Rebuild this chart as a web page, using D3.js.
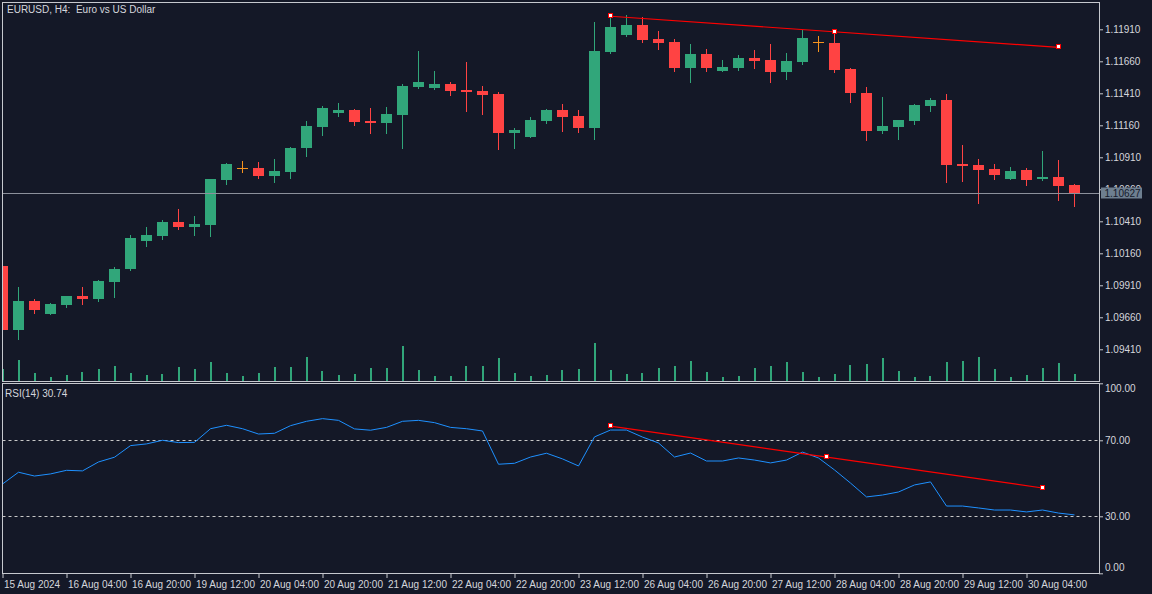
<!DOCTYPE html>
<html><head><meta charset="utf-8">
<script src="https://cdn.jsdelivr.net/npm/d3@7"></script>
<style>
html,body{margin:0;padding:0;background:#141827;}
svg{display:block;}
text{font-family:"Liberation Sans",Arial,sans-serif;}
</style>
</head><body>
<svg id="c" width="1152" height="594"></svg>
<script>
// ---------------- DATA ----------------
const symbolTitle = "EURUSD, H4:  Euro vs US Dollar";
const rsiTitle = "RSI(14) 30.74";
const timeLabels = ["15 Aug 2024","16 Aug 04:00","16 Aug 20:00","19 Aug 12:00","20 Aug 04:00","20 Aug 20:00","21 Aug 12:00","22 Aug 04:00","22 Aug 20:00","23 Aug 12:00","26 Aug 04:00","26 Aug 20:00","27 Aug 12:00","28 Aug 04:00","28 Aug 20:00","29 Aug 12:00","30 Aug 04:00"];
const timeLabelBars = [0,4,8,12,16,20,24,28,32,36,40,44,48,52,56,60,64];
const priceTicks = [1.09410,1.09660,1.09910,1.10160,1.10410,1.10660,1.10910,1.11160,1.11410,1.11660,1.11910];
const rsiTicks = [0,30,70,100];
const rsiLevels = [30,70];

const opens = [1.10061,1.09561,1.09787,1.09686,1.09756,1.09826,1.09803,1.09936,1.10037,1.10256,1.10295,1.10405,1.10366,1.10381,1.10733,1.10826,1.10826,1.10764,1.10795,1.10983,1.11147,1.11256,1.11280,1.11194,1.11178,1.11240,1.11459,1.11451,1.11483,1.11436,1.11428,1.11405,1.11100,1.11069,1.11194,1.11280,1.11233,1.11139,1.11733,1.11866,1.11944,1.11834,1.11811,1.11608,1.11717,1.11584,1.11608,1.11686,1.11670,1.11576,1.11655,1.11803,1.11803,1.11600,1.11412,1.11115,1.11147,1.11194,1.11311,1.11358,1.10858,1.10850,1.10819,1.10741,1.10811,1.10741,1.10756,1.10694];
const highs = [1.10070,1.09897,1.09803,1.09772,1.09826,1.09897,1.09951,1.10053,1.10303,1.10366,1.10420,1.10506,1.10451,1.10741,1.10865,1.10881,1.10873,1.10897,1.10990,1.11194,1.11311,1.11334,1.11287,1.11295,1.11303,1.11483,1.11740,1.11584,1.11498,1.11655,1.11467,1.11420,1.11139,1.11225,1.11287,1.11326,1.11280,1.11967,1.12014,1.12022,1.12006,1.11897,1.11834,1.11795,1.11756,1.11670,1.11709,1.11748,1.11795,1.11725,1.11905,1.11858,1.11889,1.11608,1.11459,1.11381,1.11201,1.11326,1.11373,1.11405,1.11006,1.10897,1.10858,1.10834,1.10826,1.10959,1.10889,1.10701];
const lows = [1.09555,1.09491,1.09694,1.09686,1.09740,1.09764,1.09787,1.09819,1.10030,1.10217,1.10272,1.10350,1.10303,1.10295,1.10701,1.10795,1.10748,1.10717,1.10748,1.10920,1.11084,1.11233,1.11162,1.11100,1.11100,1.10983,1.11451,1.11444,1.11397,1.11272,1.11248,1.10975,1.10983,1.11069,1.11178,1.11115,1.11108,1.11053,1.11725,1.11858,1.11811,1.11756,1.11584,1.11498,1.11584,1.11584,1.11592,1.11608,1.11498,1.11522,1.11639,1.11740,1.11576,1.11342,1.11045,1.11100,1.11053,1.11170,1.11272,1.10717,1.10725,1.10553,1.10741,1.10741,1.10694,1.10733,1.10576,1.10530];
const closes = [1.09561,1.09787,1.09717,1.09764,1.09826,1.09803,1.09944,1.10037,1.10280,1.10303,1.10405,1.10366,1.10389,1.10741,1.10858,1.10826,1.10764,1.10803,1.10983,1.11155,1.11295,1.11280,1.11186,1.11178,1.11248,1.11467,1.11498,1.11483,1.11428,1.11420,1.11397,1.11100,1.11123,1.11201,1.11280,1.11225,1.11139,1.11740,1.11928,1.11944,1.11826,1.11803,1.11608,1.11717,1.11608,1.11615,1.11686,1.11662,1.11576,1.11662,1.11842,1.11803,1.11592,1.11412,1.11115,1.11155,1.11201,1.11318,1.11358,1.10850,1.10842,1.10811,1.10772,1.10803,1.10733,1.10756,1.10686,1.10627];
const volumes = [12000,21000,8000,4000,6000,9000,12000,15000,8000,6000,7000,14000,12000,19000,8000,5000,8000,14000,14000,24000,10000,6000,7000,13000,13000,35000,11000,5000,5000,15000,15000,23000,8000,5000,6000,11000,12000,38000,11000,7000,8000,13000,15000,20000,9000,4000,5000,13000,15000,19000,9000,4000,7000,16000,17000,23000,10000,4000,5000,19000,20000,24000,12000,4000,6000,13000,18000,7000];
const rsiValues = [47.0,53.2,51.2,52.3,54.2,53.9,58.6,61.1,67.2,68.1,70.0,68.8,68.9,76.1,77.9,76.1,73.3,73.7,77.7,80.0,81.4,80.5,76.0,75.3,76.8,80.0,80.5,79.3,76.8,76.1,74.9,57.4,57.9,61.2,63.2,60.2,56.5,71.8,75.4,75.4,71.7,68.6,61.2,63.3,59.1,59.1,60.7,59.6,58.1,59.6,63.8,60.7,54.4,47.5,40.2,41.2,42.8,46.5,48.1,35.4,35.4,34.4,33.3,33.3,32.3,33.3,31.7,30.74];
const priceTrendBars = [38, 52, 66];
const priceTrendValues = [1.12012, 1.118905, 1.11769];
const rsiTrendBars = [38, 51.5, 65];
const rsiTrendValues = [77.5, 61.2, 44.9];

// ---------------- DRAW ----------------
const W = 1152, H = 594;
const C = {bg:"#141827", frame:"#c6c8ce", text:"#d4d6dc", green:"#31a67a", red:"#ff4343",
           doji:"#f7931e", pline:"#8c909b", rsi:"#1e90ff", trend:"#ff0000", level:"#c8c8c8"};
const svg = d3.select("#c");
svg.append("rect").attr("width", W).attr("height", H).attr("fill", C.bg);

const x = d3.scaleLinear().domain([0, 67]).range([2.5, 1074.5]);
const y = d3.scaleLinear().domain([1.091623, 1.121233]).range([381, 2]);
const vy = d3.scaleLinear().domain([0, 40000]).range([381, 341]);
const ry = d3.scaleLinear().domain([0, 100]).range([573.3, 383.3]);
const px = v => Math.round(v - 0.5) + 0.5;

const defs = svg.append("defs");
defs.append("clipPath").attr("id", "clipMain").append("rect").attr("x", 3).attr("y", 3).attr("width", 1096).attr("height", 378);
defs.append("clipPath").attr("id", "clipRsi").append("rect").attr("x", 3).attr("y", 384).attr("width", 1096).attr("height", 189);

const bars = d3.range(opens.length).map(i => ({i, o: opens[i], h: highs[i], l: lows[i], c: closes[i], v: volumes[i]}));
const colorOf = d => d.c > d.o ? C.green : (d.c < d.o ? C.red : C.doji);

// main panel
const gMain = svg.append("g").attr("clip-path", "url(#clipMain)");

// volumes
gMain.append("g").selectAll("rect").data(bars).join("rect")
  .attr("x", d => Math.round(x(d.i) - 1))
  .attr("width", 2)
  .attr("y", d => Math.round(vy(d.v)))
  .attr("height", d => 381 - Math.round(vy(d.v)))
  .attr("fill", C.green);

// current price line
const lastY = px(y(closes[closes.length - 1]));
svg.append("line").attr("x1", 2.5).attr("x2", 1099.5).attr("y1", lastY).attr("y2", lastY)
  .attr("stroke", C.pline).attr("stroke-width", 1);

// wicks
gMain.append("g").selectAll("line").data(bars).join("line")
  .attr("x1", d => x(d.i)).attr("x2", d => x(d.i))
  .attr("y1", d => Math.round(y(d.h))).attr("y2", d => Math.round(y(d.l)) + 1)
  .attr("stroke", colorOf).attr("stroke-width", 1);

// bodies
gMain.append("g").selectAll("rect").data(bars.filter(d => d.o !== d.c)).join("rect")
  .attr("x", d => x(d.i) - 5.5)
  .attr("width", 11)
  .attr("y", d => Math.round(y(Math.max(d.o, d.c))))
  .attr("height", d => Math.max(1, Math.round(y(Math.min(d.o, d.c))) - Math.round(y(Math.max(d.o, d.c)))))
  .attr("fill", colorOf);

// doji bars
gMain.append("g").selectAll("line").data(bars.filter(d => d.o === d.c)).join("line")
  .attr("x1", d => x(d.i) - 5.5).attr("x2", d => x(d.i) + 5.5)
  .attr("y1", d => px(y(d.o))).attr("y2", d => px(y(d.o)))
  .attr("stroke", C.doji).attr("stroke-width", 1);

// price trend line
const ptPts = priceTrendBars.map((b, k) => [x(b), y(priceTrendValues[k])]);
gMain.append("line").attr("x1", ptPts[0][0]).attr("y1", ptPts[0][1])
  .attr("x2", ptPts[2][0]).attr("y2", ptPts[2][1])
  .attr("stroke", C.trend).attr("stroke-width", 1.2);
gMain.append("g").selectAll("rect").data(ptPts).join("rect")
  .attr("x", d => Math.round(d[0]) - 2.5).attr("y", d => Math.round(d[1]) - 2.5)
  .attr("width", 4).attr("height", 4)
  .attr("fill", "#ffffff").attr("stroke", C.trend).attr("stroke-width", 1);

// RSI panel
const gRsi = svg.append("g").attr("clip-path", "url(#clipRsi)");
gRsi.append("g").selectAll("line").data(rsiLevels).join("line")
  .attr("x1", 2.5).attr("x2", 1099.5)
  .attr("y1", d => px(ry(d))).attr("y2", d => px(ry(d)))
  .attr("stroke", C.level).attr("stroke-width", 1).attr("stroke-dasharray", "3,3");
gRsi.append("path").datum(rsiValues)
  .attr("d", d3.line().x((d, i) => x(i)).y(d => ry(d)))
  .attr("fill", "none").attr("stroke", C.rsi).attr("stroke-width", 1);
const rtPts = rsiTrendBars.map((b, k) => [x(b), ry(rsiTrendValues[k])]);
gRsi.append("line").attr("x1", rtPts[0][0]).attr("y1", rtPts[0][1])
  .attr("x2", rtPts[2][0]).attr("y2", rtPts[2][1])
  .attr("stroke", C.trend).attr("stroke-width", 1.2);
gRsi.append("g").selectAll("rect").data(rtPts).join("rect")
  .attr("x", d => Math.round(d[0]) - 2.5).attr("y", d => Math.round(d[1]) - 2.5)
  .attr("width", 4).attr("height", 4)
  .attr("fill", "#ffffff").attr("stroke", C.trend).attr("stroke-width", 1);

// frames
svg.append("rect").attr("x", 2.5).attr("y", 2.5).attr("width", 1097).attr("height", 379)
  .attr("fill", "none").attr("stroke", C.frame).attr("stroke-width", 1);
svg.append("rect").attr("x", 2.5).attr("y", 383.5).attr("width", 1097).attr("height", 190)
  .attr("fill", "none").attr("stroke", C.frame).attr("stroke-width", 1);

// axes
function styleAxis(g) {
  g.select(".domain").remove();
  g.selectAll(".tick line").attr("stroke", C.frame);
  g.selectAll(".tick text").attr("fill", C.text).style("font-size", "10px")
    .style("font-family", '"Liberation Sans", Arial, sans-serif');
}
const priceAxis = svg.append("g").attr("transform", "translate(1099,0)")
  .call(d3.axisRight(y).tickValues(priceTicks).tickFormat(d3.format(".5f")).tickSize(4).tickPadding(2))
  .call(styleAxis);

const rsiAxis = svg.append("g").attr("transform", "translate(1099,0)")
  .call(d3.axisRight(ry).tickValues(rsiTicks).tickFormat(d3.format(".2f")).tickSize(4).tickPadding(2))
  .call(styleAxis);
rsiAxis.selectAll(".tick text")
  .attr("y", d => d === 100 ? 4.5 : (d === 0 ? -6 : 0));

const timeAxis = svg.append("g").attr("transform", "translate(0,573)")
  .call(d3.axisBottom(x).tickValues(timeLabelBars).tickFormat((d, i) => timeLabels[i]).tickSize(5).tickPadding(3))
  .call(styleAxis);
timeAxis.selectAll(".tick text").attr("text-anchor", "start").attr("x", 1);

// current price label
const lastLabel = svg.append("g").attr("transform", `translate(1101,${lastY})`);
lastLabel.append("rect").attr("x", 0).attr("y", -6).attr("width", 41).attr("height", 11).attr("fill", "#6e7f90");
lastLabel.append("text").attr("x", 3.5).attr("y", 3.5).attr("fill", "#151a2b")
  .style("font-size", "10px").text(d3.format(".5f")(closes[closes.length - 1]));

// titles
svg.append("text").attr("x", 7).attr("y", 13).attr("fill", C.text)
  .style("font-size", "10px").style("white-space", "pre").attr("xml:space", "preserve").text(symbolTitle);
svg.append("text").attr("x", 5).attr("y", 397).attr("fill", C.text)
  .style("font-size", "10px").text(rsiTitle);
</script>
</body></html>
